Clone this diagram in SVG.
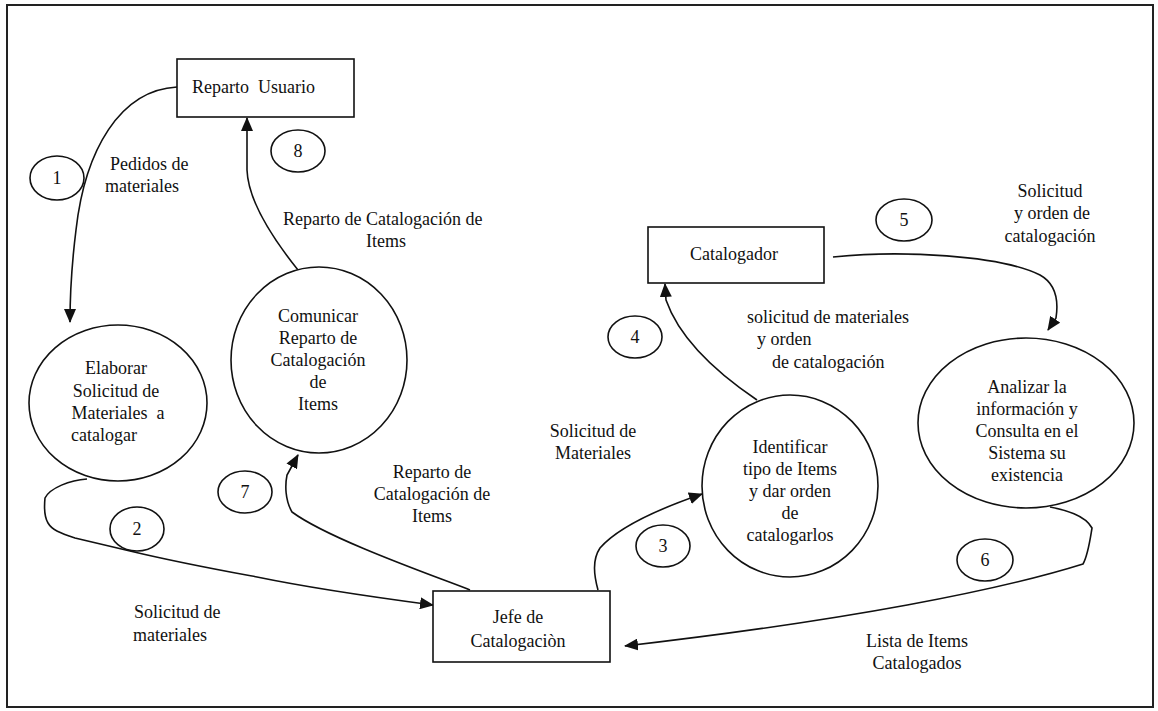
<svg xmlns="http://www.w3.org/2000/svg" width="1158" height="711" viewBox="0 0 1158 711">
<style>
text{font-family:"Liberation Serif","Times New Roman",serif;font-size:18px;fill:#111}
.c{text-anchor:middle}
.n{fill:#fff;stroke:#111;stroke-width:1.6}
.e{fill:none;stroke:#111;stroke-width:1.6}
</style>
<defs>
<marker id="ah" markerUnits="userSpaceOnUse" markerWidth="14" markerHeight="12" refX="13" refY="6" orient="auto">
<path d="M0,0 L14,6 L0,12 Z" fill="#111"/>
</marker>
</defs>
<rect width="1158" height="711" fill="#fff"/>
<rect x="7" y="5" width="1146" height="702" fill="none" stroke="#222" stroke-width="2"/>
<g id="connectors">
<path class="e" d="M177,87 C120,90 85,150 76,230 C71,270 70,300 70,322" marker-end="url(#ah)"/>
<path class="e" d="M298,270 C270,235 248,200 247,170 L247,118" marker-end="url(#ah)"/>
<path class="e" d="M87,479 C70,480 50,488 45,498 C44,508 45,518 48,523 C52,530 60,533 75,538 L130,551 C180,563 230,572 257,577 C320,590 380,598 433,605" marker-end="url(#ah)"/>
<path class="e" d="M470,590 C440,578 330,540 292,512 C285,500 285,485 287,475 L298,455" marker-end="url(#ah)"/>
<path class="e" d="M598,590 C594,575 592,560 600,548 C620,525 670,505 702,494" marker-end="url(#ah)"/>
<path class="e" d="M1050,507 C1065,510 1085,515 1092,528 C1090,540 1088,555 1083,564 C1000,590 850,620 625,646" marker-end="url(#ah)"/>
<path class="e" d="M757,400 C720,375 680,340 666,300 L665,284" marker-end="url(#ah)"/>
<path class="e" d="M833,257 C900,250 1000,255 1040,275 C1058,285 1058,305 1056,318 L1048,330" marker-end="url(#ah)"/>
</g>
<g id="reparto-usuario"><rect class="n" x="177" y="59" width="177" height="58"/><text x="192" y="93" xml:space="preserve">Reparto  Usuario</text></g>
<g id="catalogador"><rect class="n" x="648" y="227" width="176" height="56"/><text class="c" x="734" y="260">Catalogador</text></g>
<g id="jefe"><rect class="n" x="433" y="591" width="177" height="71"/><text class="c" x="518" y="623">Jefe de</text><text class="c" x="518" y="647">Catalogaciòn</text></g>
<g id="elaborar"><ellipse class="n" cx="118" cy="403" rx="89" ry="78"/>
<text class="c" x="116" y="374">Elaborar</text><text class="c" x="116" y="397">Solicitud de</text><text class="c" x="118" y="419" xml:space="preserve">Materiales  a</text><text x="71" y="441">catalogar</text></g>
<g id="comunicar"><ellipse class="n" cx="319" cy="360" rx="88" ry="93"/>
<text class="c" x="318" y="322">Comunicar</text><text class="c" x="318" y="344">Reparto de</text><text class="c" x="318" y="366">Catalogación</text><text class="c" x="318" y="388">de</text><text class="c" x="318" y="410">Items</text></g>
<g id="identificar"><ellipse class="n" cx="790" cy="486" rx="88" ry="91"/>
<text class="c" x="790" y="453">Identificar</text><text class="c" x="790" y="475">tipo de Items</text><text class="c" x="790" y="497">y dar orden</text><text class="c" x="790" y="519">de</text><text class="c" x="790" y="541">catalogarlos</text></g>
<g id="analizar"><ellipse class="n" cx="1026" cy="423" rx="108" ry="85"/>
<text class="c" x="1027" y="393">Analizar la</text><text class="c" x="1027" y="415">información y</text><text class="c" x="1027" y="437">Consulta en el</text><text class="c" x="1027" y="459">Sistema su</text><text class="c" x="1027" y="481">existencia</text></g>
<g id="num1"><ellipse class="n" cx="57" cy="178" rx="27" ry="22"/><text class="c" x="57" y="184">1</text></g>
<g id="num2"><ellipse class="n" cx="137" cy="529" rx="27" ry="22"/><text class="c" x="137" y="535">2</text></g>
<g id="num3"><ellipse class="n" cx="663" cy="546" rx="27" ry="21"/><text class="c" x="663" y="552">3</text></g>
<g id="num4"><ellipse class="n" cx="635" cy="337" rx="27" ry="21"/><text class="c" x="635" y="343">4</text></g>
<g id="num5"><ellipse class="n" cx="904" cy="220" rx="28" ry="21"/><text class="c" x="904" y="226">5</text></g>
<g id="num6"><ellipse class="n" cx="985" cy="560" rx="28" ry="21"/><text class="c" x="985" y="566">6</text></g>
<g id="num7"><ellipse class="n" cx="245" cy="492" rx="27" ry="21"/><text class="c" x="245" y="498">7</text></g>
<g id="num8"><ellipse class="n" cx="298" cy="151" rx="27" ry="21"/><text class="c" x="298" y="157">8</text></g>
<g id="labels">
<text x="110" y="170">Pedidos de</text><text x="105" y="192">materiales</text>
<text x="283" y="225">Reparto de Catalogación de</text><text x="366" y="247">Items</text>
<text x="134" y="618">Solicitud de</text><text x="133" y="641">materiales</text>
<text class="c" x="432" y="478">Reparto de</text><text class="c" x="432" y="500">Catalogación de</text><text class="c" x="432" y="522">Items</text>
<text class="c" x="593" y="437">Solicitud de</text><text class="c" x="593" y="459">Materiales</text>
<text x="747" y="323">solicitud de materiales</text><text x="757" y="345">y orden</text><text x="772" y="368">de catalogación</text>
<text class="c" x="1050" y="197">Solicitud</text><text class="c" x="1052" y="219">y orden de</text><text class="c" x="1050" y="242">catalogación</text>
<text class="c" x="917" y="647">Lista de Items</text><text class="c" x="917" y="669">Catalogados</text>
</g>
</svg>
